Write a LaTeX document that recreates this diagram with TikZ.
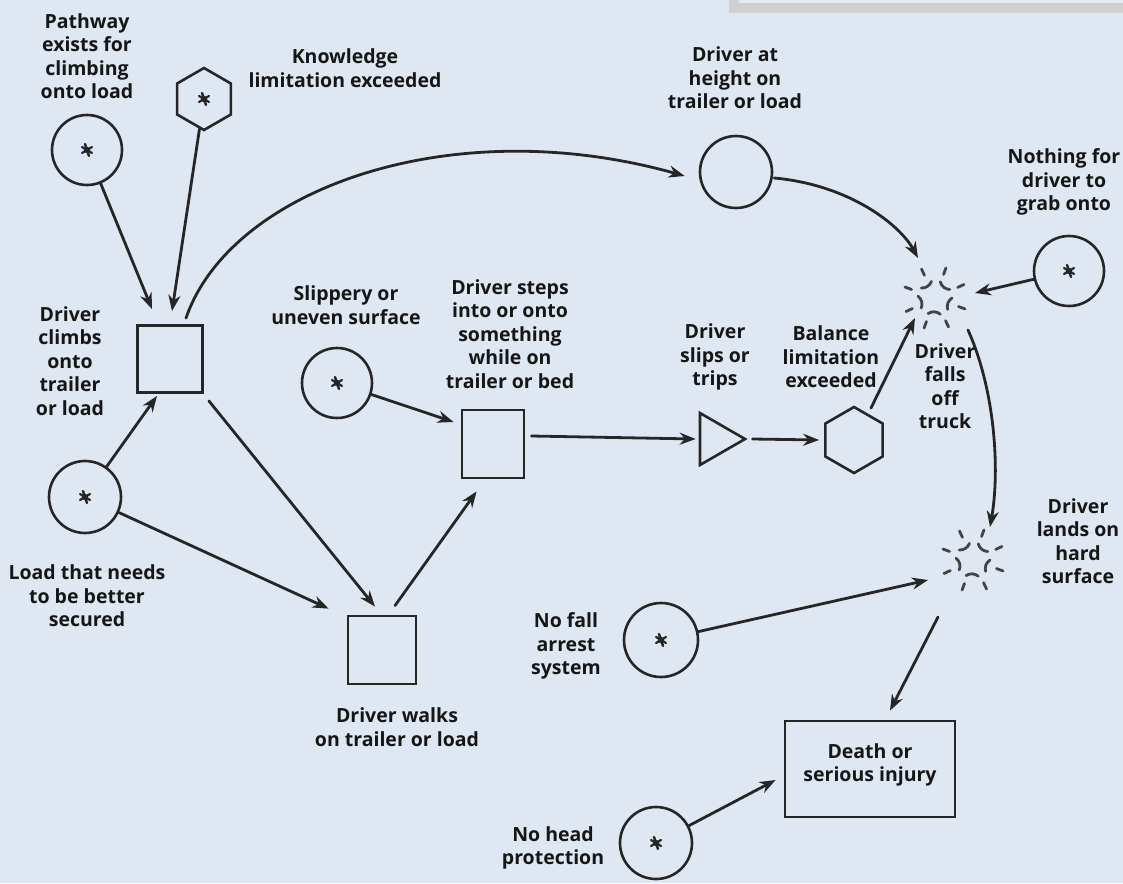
\documentclass[tikz,border=0pt]{standalone}
\usepackage{fontspec}
\setmainfont{Open Sans}
\usetikzlibrary{arrows.meta,shapes.geometric,calc}
\definecolor{bg}{HTML}{DFE7F2}
\definecolor{barg}{HTML}{D0D0D0}
\definecolor{barin}{HTML}{E4EAF3}
\definecolor{ink}{HTML}{262626}
\definecolor{txt}{HTML}{161616}
\definecolor{bstc}{HTML}{444444}
\begin{document}
\begin{tikzpicture}[x=1pt,y=-1pt,
  ln/.style={draw=ink, line width=2.8pt, line cap=round},
  arr/.style={ln, -{Stealth[length=16pt,width=12pt]}},
  circ/.style={circle, draw=ink, line width=2.6pt, minimum size=#1, inner sep=0pt},
  sqbox/.style={rectangle, draw=ink, line width=2.8pt, inner sep=0pt},
  hexa/.style={regular polygon, regular polygon sides=6, shape border rotate=30, draw=ink, line width=2.6pt, minimum size=#1, inner sep=0pt},
  trian/.style={regular polygon, regular polygon sides=3, shape border rotate=-90, draw=ink, line width=2.6pt, minimum size=#1, inner sep=0pt},
  lbl/.style={font=\bfseries\fontsize{19.5}{23.5}\selectfont, text=txt, align=center, inner sep=0pt},
  bst/.style={draw=bstc, line width=2.8pt, line cap=round},
  astmark/.pic={
    \draw[ink, line width=2.4pt, line cap=round] (-2,-6) -- (2,6);
    \draw[ink, line width=2.2pt, line cap=round] (-5,-3) -- (5,3);
    \draw[ink, line width=2.2pt, line cap=round] (-5,3) -- (5,-3);
    \fill[ink] (0,0) circle (3.2);
  },
  burst/.pic={
    \foreach \a in {0,72,144,216,288}
      \draw[bst] (\a:17) to[bend right=35] (\a+42:17);
    \foreach \a in {20,65,110,155,200,245,290,335}
      \draw[bst] (\a:25) -- (\a:32);
  }
]
\useasboundingbox (0,0) rectangle (1123,883);
\fill[bg] (0,0) rectangle (1123,883);
\fill[barg] (729,-10) rectangle (1133,13);
\fill[barin] (739,-10) rectangle (1133,3);

% nodes
\node[circ=70pt] (pw) at (87,150) {};
\node[hexa=62pt] (kn) at (204,99) {};
\node[sqbox, minimum width=65pt, minimum height=67pt] (cl) at (170,359) {};
\node[circ=72pt] (ld) at (85,497) {};
\node[sqbox, minimum width=68pt, minimum height=68pt] (wk) at (382,650) {};
\node[circ=70pt] (sl) at (337,383) {};
\node[sqbox, minimum width=62pt, minimum height=68pt] (st) at (493,444) {};
\node[trian=60pt] (tr) at (715,439) {};
\node[hexa=66pt] (bh) at (854,440) {};
\node[circ=72pt] (ht) at (736,172) {};
\node[circ=70pt] (nt) at (1069,271) {};
\node[circ=74pt] (nf) at (661,640) {};
\node[circ=72pt] (nh) at (656,843) {};
\node[sqbox, minimum width=170pt, minimum height=96pt] (dt) at (870,769) {};
\coordinate (b1) at (935,298);
\coordinate (b2) at (973,560);

\pic at (pw) {astmark};
\pic at (kn) {astmark};
\pic at (ld) {astmark};
\pic at (sl) {astmark};
\pic at (nt) {astmark};
\pic at (nf) {astmark};
\pic at (nh) {astmark};
\pic at (b1) {burst};
\pic at (b2) {burst};

% labels
\node[lbl] (lpw) at (87,56) {Pathway\\exists for\\climbing\\onto load};
\node[lbl] (lkn) at (345,68) {Knowledge\\limitation exceeded};
\node[lbl] (lht) at (735,78) {Driver at\\height on\\trailer or load};
\node[lbl] (lnt) at (1064,182) {Nothing for\\driver to\\grab onto};
\node[lbl] (lcl) at (70,361) {Driver\\climbs\\onto\\trailer\\or load};
\node[lbl] (lsl) at (346,305) {Slippery or\\uneven surface};
\node[lbl] (lst) at (510,334) {Driver steps\\into or onto\\something\\while on\\trailer or bed};
\node[lbl] (ltr) at (715,357) {Driver\\slips or\\trips};
\node[lbl] (lbh) at (831,357) {Balance\\limitation\\exceeded};
\node[lbl] (lb1) at (945,386) {Driver\\falls\\off\\truck};
\node[lbl] (lld) at (87,596) {Load that needs\\to be better\\secured};
\node[lbl] (lb2) at (1078,541) {Driver\\lands on\\hard\\surface};
\node[lbl] (lwk) at (397,727) {Driver walks\\on trailer or load};
\node[lbl] (lnf) at (566,646) {No fall\\arrest\\system};
\node[lbl] (ldt) at (870,765) {Death or\\serious injury};
\node[lbl] (lnh) at (553,848) {No head\\protection};

% connectors
\draw[arr] (pw) -- ($(cl.north)+(-18,-15)$);
\draw[arr] (kn) -- ($(cl.north)+(2,-13)$);
\draw[arr] (ld) -- ($(cl.south)+(-13,2)$);
\draw[arr] ($(cl.north)+(16,-6)$) .. controls (230,190) and (450,110) .. ($(ht.west)+(-14,4)$);
\draw[arr] ($(cl.south east)+(5,7)$) -- ($(wk.north)+(-7,-8)$);
\draw[arr] (ld) -- ($(wk.north west)+(-18,-6)$);
\draw[arr] ($(wk.north)+(13,-9)$) -- ($(st.south west)+(16,12)$);
\draw[arr] (sl) -- ($(st.west)+(-7,-22)$);
\draw[arr] ($(st.east)+(6,-8)$) -- ($(tr.west)+(-3,0)$);
\draw[arr] ($(tr.east)+(5,0)$) -- ($(bh.west)+(-5,0)$);
\draw[arr] ($(bh.60)+(2,-6)$) -- ($(b1)+(-20,20)$);
\draw[arr] ($(ht.east)+(1,6)$) .. controls (850,185) and (900,225) .. ($(b1)+(-17,-40)$);
\draw[arr] (nt) -- ($(b1)+(40,-5)$);
\draw[arr] ($(b1)+(33,32)$) .. controls (995,390) and (1000,470) .. ($(b2)+(17,-33)$);
\draw[arr] (nf) -- ($(b2)+(-45,20)$);
\draw[arr] ($(b2)+(-35,57)$) -- ($(dt.north)+(20,-9)$);
\draw[arr] (nh) -- ($(dt.west)+(-8,11)$);
\end{tikzpicture}
\end{document}
